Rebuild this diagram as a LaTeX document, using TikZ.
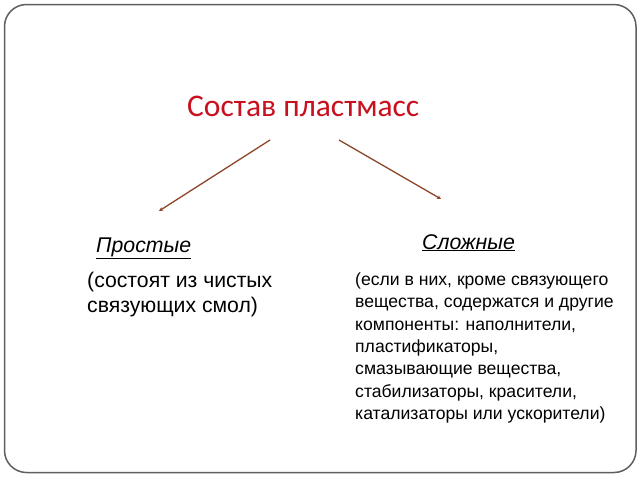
\documentclass[tikz,border=0pt]{standalone}
\usepackage{fontspec}
\setmainfont{Liberation Sans}
\newfontfamily\titlefont{Carlito}
\usetikzlibrary{arrows.meta}
\definecolor{titlered}{RGB}{200,16,30}
\definecolor{arrowbrown}{RGB}{140,70,40}
\definecolor{framegray}{RGB}{95,95,95}
\begin{document}
\begin{tikzpicture}[x=1pt,y=-1pt,
  frame/.style={draw=framegray, line width=1.5pt, rounded corners=22pt},
  titletext/.style={inner sep=0pt, text=titlered, font=\titlefont\fontsize{31.5}{34}\selectfont},
  conn/.style={draw=arrowbrown, line width=1.3pt, -{Stealth[length=4pt,width=4pt]}},
  head/.style={inner sep=0pt, font=\itshape\fontsize{21.3}{24}\selectfont},
  bodyleft/.style={inner sep=0pt, align=left, font=\fontsize{21.2}{25.5}\selectfont},
  bodyright/.style={inner sep=0pt, align=left, font=\fontsize{17.6}{22.3}\selectfont}]
\path[fill=white] (0,0) rectangle (640,480);
\useasboundingbox (0,0) rectangle (640,480);
\draw[frame] (4.5,4.5) rectangle (636,472.5);
\node[titletext, anchor=base west] (title) at (187,116.5) {Состав пластмасс};
\coordinate (la) at (270,140);
\coordinate (lb) at (159,211);
\coordinate (ra) at (339,140);
\coordinate (rb) at (441,199);
\draw[conn] (la) -- (lb);
\draw[conn] (ra) -- (rb);
\node[head, anchor=base west] (simple) at (96,252) {\underline{Простые}};
\node[head, anchor=base west] (complex) at (422,249) {\underline{Сложные}};
\node[bodyleft, anchor=north west] (sdesc) at (87,271.5) {(состоят из чистых\\связующих смол)};
\node[bodyright, anchor=north west] (cdesc) at (355,272.7) {(если в них, кроме связующего\\вещества, содержатся и другие\\компоненты: наполнители,\\пластификаторы,\\смазывающие вещества,\\стабилизаторы, красители,\\катализаторы или ускорители)};
\end{tikzpicture}
\end{document}
